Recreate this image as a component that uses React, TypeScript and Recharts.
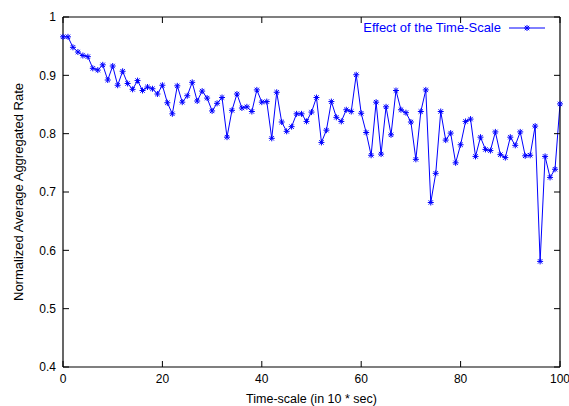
import React from 'react';
import { LineChart, Line, XAxis, YAxis } from 'recharts';

const timeScale = [
  0, 1, 2, 3, 4, 5, 6, 7, 8, 9, 10, 11, 12, 13, 14, 15, 16, 17, 18, 19, 20,
  21, 22, 23, 24, 25, 26, 27, 28, 29, 30, 31, 32, 33, 34, 35, 36, 37, 38, 39, 40,
  41, 42, 43, 44, 45, 46, 47, 48, 49, 50, 51, 52, 53, 54, 55, 56, 57, 58, 59, 60,
  61, 62, 63, 64, 65, 66, 67, 68, 69, 70, 71, 72, 73, 74, 75, 76, 77, 78, 79, 80,
  81, 82, 83, 84, 85, 86, 87, 88, 89, 90, 91, 92, 93, 94, 95, 96, 97, 98, 99, 100,
];

const rateValues = [
  0.966, 0.966, 0.948, 0.94, 0.934, 0.932, 0.912, 0.909, 0.918, 0.892, 0.916,
  0.883, 0.907, 0.886, 0.876, 0.891, 0.874, 0.88, 0.877, 0.868, 0.883,
  0.853, 0.834, 0.882, 0.854, 0.865, 0.888, 0.856, 0.873, 0.861, 0.839,
  0.852, 0.862, 0.794, 0.84, 0.868, 0.844, 0.846, 0.838, 0.875, 0.854,
  0.855, 0.792, 0.871, 0.82, 0.804, 0.812, 0.834, 0.834, 0.821, 0.837,
  0.862, 0.785, 0.806, 0.855, 0.828, 0.821, 0.841, 0.838, 0.901, 0.835,
  0.802, 0.763, 0.854, 0.765, 0.846, 0.798, 0.874, 0.841, 0.836, 0.82,
  0.756, 0.838, 0.875, 0.682, 0.732, 0.838, 0.789, 0.801, 0.75, 0.781,
  0.821, 0.825, 0.761, 0.794, 0.773, 0.771, 0.803, 0.764, 0.759, 0.794,
  0.78, 0.803, 0.762, 0.763, 0.813, 0.581, 0.761, 0.725, 0.739, 0.851,
];

const xTicks = [0, 20, 40, 60, 80, 100];
const yTicks = [0.4, 0.5, 0.6, 0.7, 0.8, 0.9, 1];

const seriesName = 'Effect of the Time-Scale';
const xTitle = 'Time-scale (in 10 * sec)';
const yTitle = 'Normalized Average Aggregated Rate';

const data = timeScale.map((x, i) => ({ x, rate: rateValues[i] }));

const BLUE = '#0000ff';
const FONT = '"Liberation Sans", Arial, Helvetica, sans-serif';

const StarDot = (props: any) => {
  const { cx, cy } = props;
  if (cx == null || cy == null) return null;
  const r = 3;
  const d = 2.2;
  return (
    <g stroke={BLUE} strokeWidth={1}>
      <line x1={cx - r} y1={cy} x2={cx + r} y2={cy} />
      <line x1={cx} y1={cy - r} x2={cx} y2={cy + r} />
      <line x1={cx - d} y1={cy - d} x2={cx + d} y2={cy + d} />
      <line x1={cx - d} y1={cy + d} x2={cx + d} y2={cy - d} />
    </g>
  );
};

const fmtY = (v: number) => (v === 1 ? '1' : v.toFixed(1));

export default function App() {
  return (
    <div style={{ position: 'absolute', left: 0, top: 0, width: 569, height: 406, background: '#fff', fontFamily: FONT }}>
      <LineChart
        width={569}
        height={406}
        data={data}
        margin={{ top: 16, right: 8, left: 0, bottom: 0 }}
        style={{ fontFamily: FONT }}
      >
        <XAxis
          xAxisId="bottom"
          dataKey="x"
          type="number"
          domain={[0, 100]}
          ticks={xTicks}
          height={39}
          tickSize={-6}
          tickMargin={13}
          stroke="#000"
          tick={{ fill: '#000', fontSize: 12, fontFamily: FONT }}
          axisLine={{ stroke: '#000', strokeWidth: 1.2 }}
          tickLine={{ stroke: '#000' }}
          interval={0}
          label={{ value: xTitle, position: 'insideBottom', offset: 3, fill: '#000', fontSize: 12.5, fontFamily: FONT }}
        />
        <XAxis
          xAxisId="top"
          orientation="top"
          dataKey="x"
          type="number"
          domain={[0, 100]}
          ticks={xTicks}
          height={1}
          tickSize={-6}
          tickFormatter={() => ''}
          stroke="#000"
          axisLine={{ stroke: '#000', strokeWidth: 1.2 }}
          tickLine={{ stroke: '#000' }}
          interval={0}
        />
        <YAxis
          yAxisId="left"
          type="number"
          domain={[0.4, 1]}
          ticks={yTicks}
          width={63}
          tickSize={-6}
          tickMargin={13}
          tickFormatter={fmtY}
          stroke="#000"
          tick={{ fill: '#000', fontSize: 12, fontFamily: FONT }}
          axisLine={{ stroke: '#000', strokeWidth: 1.2 }}
          tickLine={{ stroke: '#000' }}
          interval={0}
          label={{
            value: yTitle,
            angle: -90,
            position: 'insideLeft',
            offset: 18,
            fill: '#000',
            fontSize: 13,
            fontFamily: FONT,
            style: { textAnchor: 'middle' },
          }}
        />
        <YAxis
          yAxisId="right"
          orientation="right"
          type="number"
          domain={[0.4, 1]}
          ticks={yTicks}
          width={1}
          tickSize={-6}
          tickFormatter={() => ''}
          stroke="#000"
          axisLine={{ stroke: '#000', strokeWidth: 1.2 }}
          tickLine={{ stroke: '#000' }}
          interval={0}
        />
        <Line
          xAxisId="top"
          yAxisId="right"
          type="linear"
          dataKey="rate"
          stroke="none"
          strokeOpacity={0}
          dot={false}
          activeDot={false}
          legendType="none"
          isAnimationActive={false}
        />
        <Line
          xAxisId="bottom"
          yAxisId="left"
          type="linear"
          dataKey="rate"
          name={seriesName}
          stroke={BLUE}
          strokeWidth={1}
          dot={<StarDot />}
          activeDot={false}
          isAnimationActive={false}
        />
      </LineChart>
      <div
        style={{
          position: 'absolute',
          top: 20,
          right: 569 - 546,
          display: 'flex',
          alignItems: 'center',
          fontFamily: FONT,
          fontSize: 13,
          color: BLUE,
          lineHeight: '16px',
        }}
      >
        <span>{seriesName}</span>
        <svg width={37} height={16} style={{ marginLeft: 8 }}>
          <line x1={0} y1={8} x2={36} y2={8} stroke={BLUE} strokeWidth={1} />
          <g stroke={BLUE} strokeWidth={1}>
            <line x1={15} y1={8} x2={21} y2={8} />
            <line x1={18} y1={5} x2={18} y2={11} />
            <line x1={15.8} y1={5.8} x2={20.2} y2={10.2} />
            <line x1={15.8} y1={10.2} x2={20.2} y2={5.8} />
          </g>
        </svg>
      </div>
    </div>
  );
}
